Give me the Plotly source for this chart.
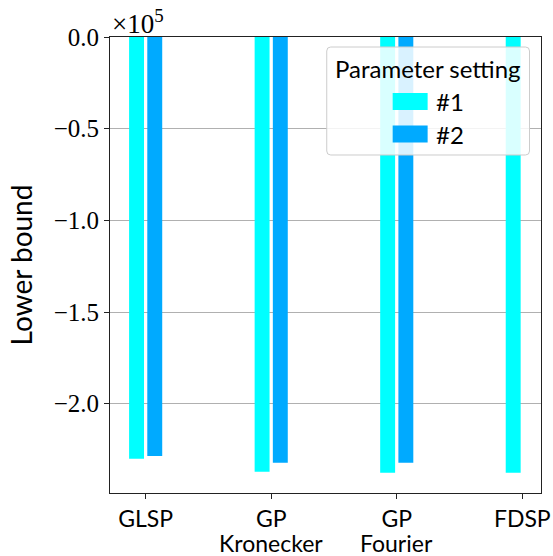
import plotly.graph_objects as go

# Lower bound (in units of 1e5) for each method and parameter setting
methods = ["GLSP", "GP Kronecker", "GP Fourier", "FDSP"]
label_line1 = ["GLSP", "GP", "GP", "FDSP"]
label_line2 = ["", "Kronecker", "Fourier", ""]
setting1 = [-2.300, -2.371, -2.377, -2.377]
setting2 = [-2.285, -2.322, -2.322, None]
series_names = ["#1", "#2"]
colors = ["#00FFFF", "#00AAFF"]
yticks = [0.0, -0.5, -1.0, -1.5, -2.0]

W, H = 553, 556
L, R, T, B = 110, 11.5, 37, 63
pw, ph = W - L - R, H - T - B


def px(x):
    return (x - L) / pw


def py(y):
    return (H - B - y) / ph


fig = go.Figure()
for name, vals, col in zip(series_names, [setting1, setting2], colors):
    fig.add_trace(go.Bar(x=methods, y=vals, name=name, marker=dict(color=col, line=dict(width=0)),
                         showlegend=False))

serif = "Liberation Serif, DejaVu Serif, serif"
sans = "Lato, Open Sans, sans-serif"

fig.update_layout(
    width=W, height=H,
    margin=dict(l=L, r=R, t=T, b=B),
    paper_bgcolor="white", plot_bgcolor="white",
    barmode="group", bargap=0.71, bargroupgap=0.18,
    xaxis=dict(range=[-0.284, 3.149], showgrid=False, ticks="outside", ticklen=5,
               tickcolor="#222", showline=True, linecolor="#222", linewidth=1, mirror=True,
               tickmode="array", tickvals=methods, ticktext=label_line1, automargin=False,
               tickfont=dict(family=sans, size=23, color="black")),
    yaxis=dict(range=[-2.487, 0], tickvals=yticks, tickformat=".1f", ticks="outside",
               ticklen=5, tickcolor="#222", showline=True, linecolor="#222", linewidth=1,
               mirror=True, showgrid=True, gridcolor="#b0b0b0", gridwidth=1, zeroline=False,
               automargin=False,
               tickfont=dict(family=serif, size=25, color="black"),
               title=dict(text="Lower bound", font=dict(family=sans, size=28, color="black"),
                          standoff=12)),
)

# second line of the category labels
for m, txt in zip(methods, label_line2):
    if txt:
        fig.add_annotation(x=m, y=py(543), xref="x", yref="paper", xanchor="center",
                           yanchor="middle", showarrow=False, text=txt,
                           font=dict(family=sans, size=23, color="black"))

# scale factor above the y axis
fig.add_annotation(x=px(110), y=py(41), xref="paper", yref="paper", xanchor="left",
                   yanchor="bottom", showarrow=False, text="×10<sup>5</sup>",
                   font=dict(family=serif, size=27, color="black"))

# legend box with rounded corners
x0, x1, y0, y1, r = 327, 530, 47, 155, 4


def pt(x, y):
    return f"{px(x):.5f},{py(y):.5f}"


path = (f"M {pt(x0 + r, y0)} L {pt(x1 - r, y0)} Q {pt(x1, y0)} {pt(x1, y0 + r)} "
        f"L {pt(x1, y1 - r)} Q {pt(x1, y1)} {pt(x1 - r, y1)} L {pt(x0 + r, y1)} "
        f"Q {pt(x0, y1)} {pt(x0, y1 - r)} L {pt(x0, y0 + r)} Q {pt(x0, y0)} {pt(x0 + r, y0)} Z")
fig.add_shape(type="path", path=path, xref="paper", yref="paper",
              fillcolor="rgba(255,255,255,0.85)", line=dict(color="#cccccc", width=1), layer="above")
fig.add_annotation(x=px(428.5), y=py(68), xref="paper", yref="paper", xanchor="center",
                   yanchor="middle", showarrow=False, text="Parameter setting",
                   font=dict(family=sans, size=24, color="black"))
for i, (name, col) in enumerate(zip(series_names, colors)):
    yc = 101.5 + i * 32.5
    fig.add_shape(type="rect", xref="paper", yref="paper", x0=px(393), x1=px(428),
                  y0=py(yc - 8.5), y1=py(yc + 8.5), fillcolor=col, line=dict(width=0),
                  layer="above")
    fig.add_annotation(x=px(434), y=py(yc), xref="paper", yref="paper", xanchor="left",
                       yanchor="middle", showarrow=False, text=name,
                       font=dict(family=sans, size=24, color="black"))

fig.write_html("out.html")
